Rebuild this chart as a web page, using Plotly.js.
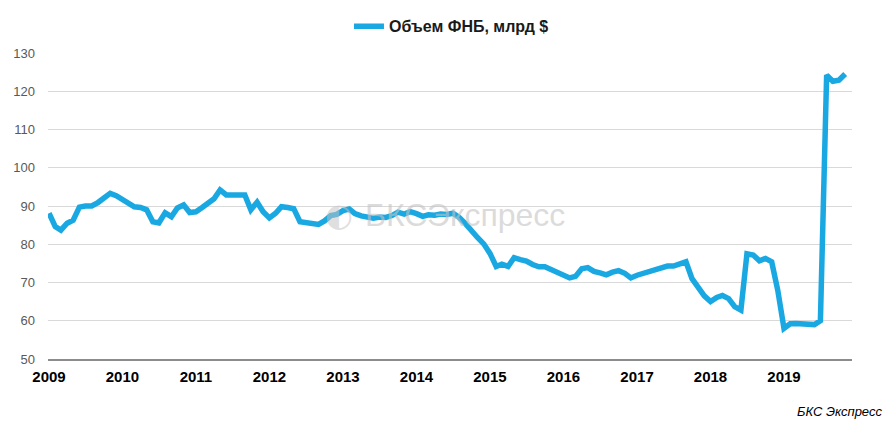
<!DOCTYPE html>
<html>
<head>
<meta charset="utf-8">
<script src="https://cdn.plot.ly/plotly-3.0.1.min.js"></script>
<style>html,body{margin:0;padding:0;background:#fff;}#chart{width:894px;height:424px;}</style>
</head>
<body>
<div id="chart"></div>
<script>
// Monthly data, Jan 2009 .. Nov 2019
const startYear = 2009;
const startMonth = 1;
const seriesName = "Объем ФНБ, млрд $";
const nwfValues = [
  88.1, 84.6, 83.7, 85.5, 86.3, 89.7, 90.0, 90.0, 90.9, 92.0, 93.3, 92.7,
  91.6, 90.6, 89.8, 89.6, 89.0, 85.9, 85.6, 88.2, 87.2, 89.5, 90.3, 88.3,
  88.5, 89.6, 90.7, 91.9, 94.2, 92.9, 92.9, 92.9, 92.9, 89.0, 91.0, 88.5,
  86.9, 88.1, 89.8, 89.6, 89.3, 85.9, 85.7, 85.6, 85.2, 86.1, 87.5, 87.8,
  88.8, 89.2, 88.0, 87.4, 87.2, 86.8, 87.1, 87.0, 87.5, 88.4, 87.9, 88.5,
  88.0, 87.3, 87.7, 87.6, 87.9, 87.8, 88.1, 87.0, 85.4, 83.3, 81.7, 80.1,
  77.6, 74.2, 74.8, 74.2, 76.5, 76.0, 75.6, 74.7, 74.1, 74.1, 73.4, 72.4,
  71.8, 71.2, 71.6, 73.6, 73.9, 72.9, 72.5, 72.0, 72.7, 73.1, 72.4, 71.2,
  71.9, 72.4, 72.8, 73.1, 73.5, 74.3, 74.3, 75.0, 75.4, 71.0, 68.5, 66.5,
  65.0, 66.1, 66.6, 65.8, 63.7, 62.8, 77.5, 77.2, 75.7, 76.3, 75.4, 68.0,
  58.0, 59.2, 59.3, 59.1, 58.9, 59.0, 60.0, 124.2, 122.6, 122.9, 124.5
];
const yTicks = [50, 60, 70, 80, 90, 100, 110, 120, 130];
const yearLabels = ["2009","2010","2011","2012","2013","2014","2015","2016","2017","2018","2019"];
const watermarkText = "БКСЭкспресс";
const sourceText = "БКС Экспресс";

const months = nwfValues.map((v, i) => {
  const m = startMonth - 1 + i;
  const y = startYear + Math.floor(m / 12);
  const mm = (m % 12) + 1;
  return y + "-" + String(mm).padStart(2, "0") + "-01";
});
const yearTickVals = yearLabels.map(y => y + "-01-01");

const trace = {
  x: months,
  y: nwfValues,
  type: "scatter",
  mode: "lines",
  name: seriesName,
  line: {color: "#1aa8e2", width: 5.5, shape: "linear"},
  hoverinfo: "skip"
};

const layout = {
  width: 894, height: 424,
  margin: {l: 48, r: 42, t: 53, b: 65, autoexpand: false},
  paper_bgcolor: "#ffffff",
  plot_bgcolor: "#ffffff",
  showlegend: true,
  legend: {
    orientation: "h", xref: "container", x: 0.505, xanchor: "center",
    yref: "container", y: 0.938, yanchor: "middle",
    font: {family: "Liberation Sans, Arial, sans-serif", size: 16, color: "#1a1a1a", weight: "bold"},
    itemwidth: 30
  },
  xaxis: {
    type: "date",
    range: ["2008-12-27", "2019-12-05"],
    tickvals: yearTickVals,
    ticktext: yearLabels,
    showgrid: false,
    showline: true, linecolor: "#8c8c8c", linewidth: 2,
    ticks: "",
    ticklabelstandoff: 3,
    tickfont: {family: "Liberation Sans, Arial, sans-serif", size: 15, color: "#000000", weight: "bold"},
    fixedrange: true
  },
  yaxis: {
    range: [50, 130],
    tickvals: yTicks,
    showgrid: true, gridcolor: "#d9d9d9", gridwidth: 1,
    zeroline: false, showline: false,
    ticks: "",
    ticklabelstandoff: 12,
    tickfont: {family: "Liberation Sans, Arial, sans-serif", size: 13, color: "#595959"},
    fixedrange: true
  },
  annotations: [
    {
      xref: "paper", yref: "paper", x: 0.392, y: 0.47, xanchor: "left", yanchor: "middle",
      text: watermarkText, showarrow: false,
      font: {family: "Liberation Sans, Arial, sans-serif", size: 32, color: "rgba(195,195,195,0.6)"}
    },
    {
      xref: "paper", yref: "paper", x: 0.362, y: 0.47, xanchor: "center", yanchor: "middle",
      text: "◐", showarrow: false,
      font: {family: "DejaVu Sans, sans-serif", size: 32, color: "rgba(195,195,195,0.55)"}
    },
    {
      xref: "paper", yref: "paper", x: 1.04, y: -0.17, xanchor: "right", yanchor: "middle",
      text: "<i>" + sourceText + "</i>", showarrow: false,
      font: {family: "Liberation Sans, Arial, sans-serif", size: 13, color: "#000000"}
    }
  ]
};

Plotly.newPlot("chart", [trace], layout, {displayModeBar: false, staticPlot: true});
</script>
</body>
</html>
